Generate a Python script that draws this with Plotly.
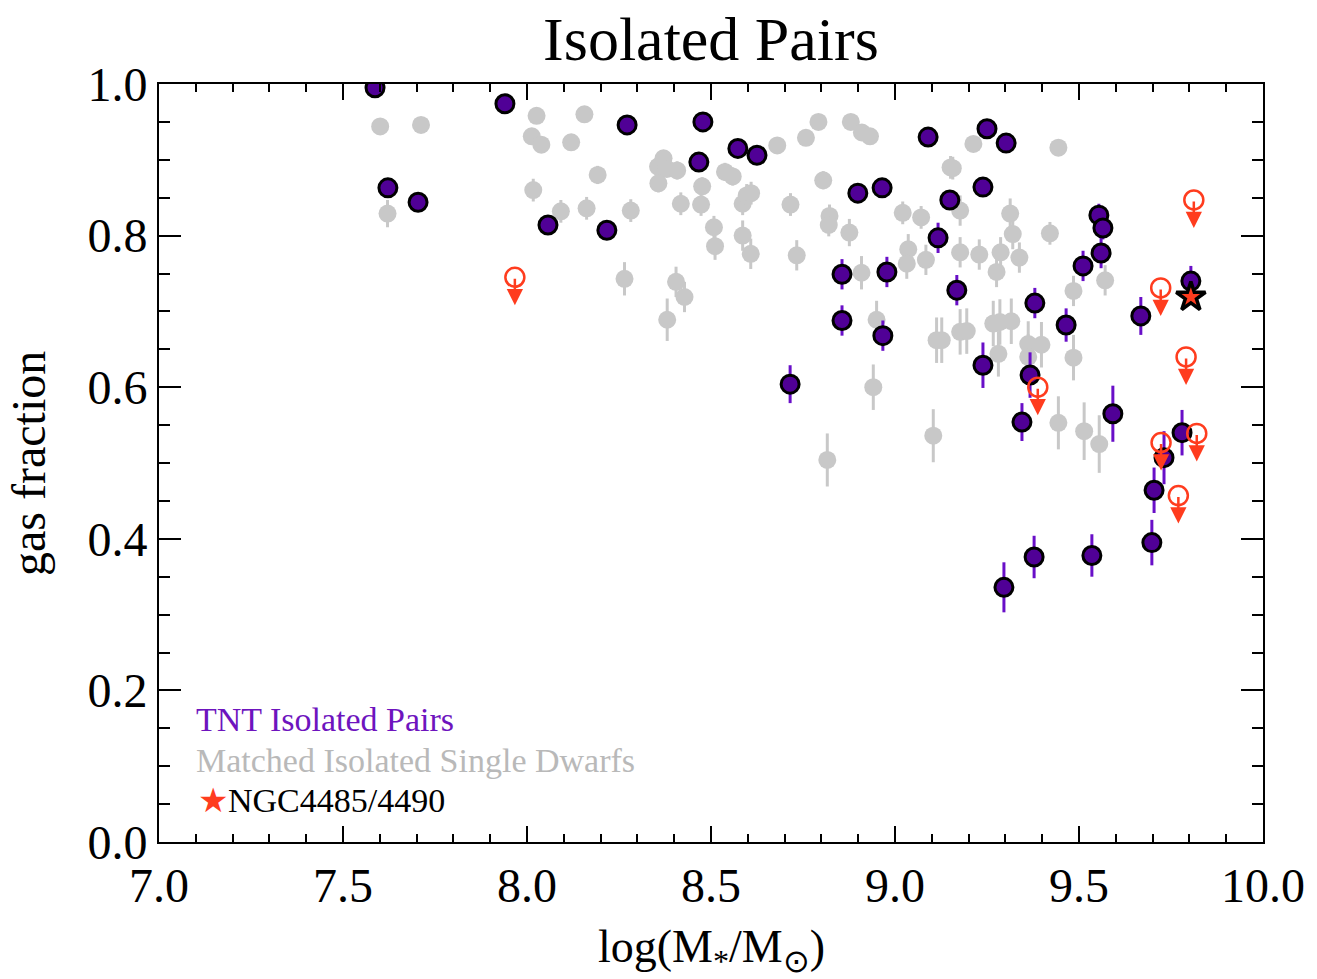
import plotly.graph_objects as go

# ---- data ----
pair_x = [7.587, 7.622, 7.704, 7.940, 8.057, 8.217, 8.272, 8.478, 8.467, 8.573,
          8.625, 8.715, 8.856, 8.856, 8.899, 8.965, 8.978, 8.967, 9.090, 9.117,
          9.149, 9.168, 9.250, 9.239, 9.302, 9.239, 9.296, 9.345, 9.367, 9.380,
          9.378, 9.465, 9.511, 9.554, 9.565, 9.560, 9.535, 9.592, 9.668, 9.804,
          9.780, 9.731, 9.704, 9.698]
pair_y = [0.995, 0.863, 0.844, 0.974, 0.814, 0.807, 0.946, 0.950, 0.897, 0.915,
          0.906, 0.604, 0.749, 0.688, 0.856, 0.863, 0.752, 0.668, 0.930, 0.797,
          0.847, 0.728, 0.941, 0.864, 0.922, 0.629, 0.336, 0.554, 0.616, 0.711,
          0.376, 0.682, 0.760, 0.827, 0.810, 0.777, 0.378, 0.565, 0.694, 0.740,
          0.540, 0.507, 0.464, 0.395]
pair_err = [0.005, 0.012, 0.012, 0.005, 0.012, 0.012, 0.005, 0.005, 0.008, 0.005,
            0.005, 0.025, 0.020, 0.020, 0.005, 0.005, 0.020, 0.020, 0.005, 0.020,
            0.010, 0.020, 0.005, 0.010, 0.005, 0.030, 0.033, 0.025, 0.030, 0.020,
            0.028, 0.022, 0.020, 0.015, 0.015, 0.020, 0.028, 0.037, 0.025, 0.020,
            0.030, 0.035, 0.030, 0.030]

single_x = [7.601, 7.712, 7.621, 8.026, 8.156, 8.013, 8.039, 8.120, 8.192, 8.017,
            8.092, 8.162, 8.282, 8.265, 8.356, 8.371, 8.380, 8.357, 8.408, 8.418,
            8.476, 8.473, 8.508, 8.511, 8.538, 8.559, 8.586, 8.597, 8.609, 8.586,
            8.608, 8.680, 8.716, 8.758, 8.792, 8.805, 8.733, 8.405, 8.428, 8.381,
            8.880, 8.910, 8.932, 8.822, 8.820, 8.876, 8.909, 8.941, 8.950, 8.816,
            9.104, 9.113, 9.151, 9.021, 9.071, 9.036, 9.032, 9.084, 9.177, 9.213,
            9.444, 9.157, 9.177, 9.313, 9.320, 9.421, 9.177, 9.229, 9.287, 9.338,
            9.276, 9.571, 9.485, 9.195, 9.127, 9.267, 9.285, 9.316, 9.362, 9.398,
            9.485, 9.281, 9.362, 9.444, 9.514, 9.555]
single_y = [0.944, 0.946, 0.829, 0.958, 0.960, 0.931, 0.920, 0.923, 0.880, 0.860,
            0.832, 0.836, 0.833, 0.743, 0.891, 0.902, 0.888, 0.869, 0.886, 0.842,
            0.865, 0.841, 0.811, 0.786, 0.884, 0.878, 0.842, 0.853, 0.856, 0.800,
            0.776, 0.919, 0.841, 0.929, 0.950, 0.873, 0.774, 0.739, 0.719, 0.689,
            0.950, 0.936, 0.931, 0.826, 0.814, 0.804, 0.751, 0.600, 0.689, 0.504,
            0.536, 0.662, 0.890, 0.830, 0.824, 0.782, 0.763, 0.768, 0.673, 0.921,
            0.916, 0.889, 0.833, 0.829, 0.802, 0.803, 0.778, 0.775, 0.778, 0.771,
            0.752, 0.741, 0.727, 0.674, 0.662, 0.684, 0.686, 0.687, 0.657, 0.656,
            0.639, 0.644, 0.640, 0.553, 0.542, 0.525]
single_err = [0.004, 0.004, 0.018, 0.004, 0.004, 0.004, 0.004, 0.004, 0.012, 0.015,
              0.015, 0.015, 0.015, 0.022, 0.010, 0.010, 0.010, 0.012, 0.012, 0.015,
              0.012, 0.015, 0.015, 0.018, 0.012, 0.012, 0.015, 0.015, 0.015, 0.020,
              0.020, 0.004, 0.015, 0.004, 0.004, 0.012, 0.020, 0.020, 0.020, 0.028,
              0.004, 0.004, 0.004, 0.015, 0.015, 0.018, 0.022, 0.030, 0.025, 0.035,
              0.035, 0.030, 0.015, 0.015, 0.015, 0.020, 0.020, 0.020, 0.030, 0.005,
              0.005, 0.015, 0.020, 0.020, 0.020, 0.015, 0.020, 0.020, 0.020, 0.020,
              0.020, 0.020, 0.020, 0.030, 0.030, 0.030, 0.030, 0.030, 0.030, 0.030,
              0.030, 0.030, 0.030, 0.035, 0.038, 0.038]

limit_x = [7.967, 9.388, 9.722, 9.812, 9.791, 9.723, 9.820, 9.770]
limit_y = [0.745, 0.600, 0.731, 0.847, 0.640, 0.527, 0.539, 0.457]

star_x = [9.804]
star_y = [0.719]

# ---- styles ----
FONT = "Liberation Serif"
PURPLE_FILL = "rgb(80,0,150)"
PURPLE_BAR = "rgb(105,15,200)"
GRAY = "rgb(200,200,200)"
RED = "rgb(255,60,30)"

fig = go.Figure()

fig.add_trace(go.Scatter(
    x=single_x, y=single_y, mode="markers",
    marker=dict(size=18, color=GRAY, line=dict(width=0)),
    error_y=dict(type="data", array=single_err, color=GRAY, thickness=3, width=0),
    showlegend=False, hoverinfo="skip"))

fig.add_trace(go.Scatter(
    x=pair_x, y=pair_y, mode="markers",
    marker=dict(size=18, color=PURPLE_FILL, line=dict(width=3, color="black")),
    error_y=dict(type="data", array=pair_err, color=PURPLE_BAR, thickness=3, width=0),
    showlegend=False, hoverinfo="skip"))

fig.add_trace(go.Scatter(
    x=star_x, y=star_y, mode="markers",
    marker=dict(size=22, symbol="star", color=RED, line=dict(width=3.5, color="black")),
    showlegend=False, hoverinfo="skip"))

fig.add_trace(go.Scatter(
    x=limit_x, y=limit_y, mode="markers",
    marker=dict(size=19, symbol="circle-open", color=RED, line=dict(width=2.5, color=RED)),
    showlegend=False, hoverinfo="skip"))

annotations = []
for lx, ly in zip(limit_x, limit_y):
    annotations.append(dict(
        x=lx, y=ly, xref="x", yref="y", text="", showarrow=True,
        ax=0, ay=-28, yshift=-28, arrowhead=2, arrowsize=1.3,
        arrowwidth=2.5, arrowcolor=RED))

# legend-like text
annotations += [
    dict(x=0.032, y=0.161, xref="paper", yref="paper", text="TNT Isolated Pairs",
         showarrow=False, xanchor="left", yanchor="middle",
         font=dict(family=FONT, size=34, color="rgb(110,20,190)")),
    dict(x=0.032, y=0.108, xref="paper", yref="paper", text="Matched Isolated Single Dwarfs",
         showarrow=False, xanchor="left", yanchor="middle",
         font=dict(family=FONT, size=34, color="rgb(185,185,185)")),
    dict(x=0.0625, y=0.055, xref="paper", yref="paper",
         text="<span style='color:rgb(255,60,30)'>★</span>NGC4485/4490",
         showarrow=False, xanchor="center", yanchor="middle", xshift=-3,
         font=dict(family=FONT, size=34, color="black")),
    # axis titles
    dict(x=0.5, y=-0.1425, xref="paper", yref="paper",
         text="log(M<sub>*</sub>/M<sub>⊙</sub>)",
         showarrow=False, xanchor="center", yanchor="middle",
         font=dict(family=FONT, size=46, color="black")),
    dict(x=-0.1187, y=0.5, xref="paper", yref="paper", text="gas fraction",
         textangle=-90, showarrow=False, xanchor="center", yanchor="middle",
         font=dict(family=FONT, size=48, color="black")),
]
# position the NGC label left-anchored
annotations[-3]["xanchor"] = "left"
annotations[-3]["x"] = 0.036

axis_common = dict(
    showgrid=False, zeroline=False, showline=True, linecolor="black", linewidth=2,
    mirror="allticks", ticks="inside", tickcolor="black", tickwidth=2,
    tickfont=dict(family=FONT, size=48, color="black"),
)

fig.update_layout(
    width=1317, height=979,
    margin=dict(l=159, r=54, t=84, b=137),
    paper_bgcolor="white", plot_bgcolor="white",
    title=dict(text="Isolated Pairs", x=0.5, xref="paper", xanchor="center",
               y=0.961, yref="container", yanchor="middle",
               font=dict(family=FONT, size=62, color="black")),
    xaxis=dict(range=[7.0, 10.0], tickmode="linear", tick0=7.0, dtick=0.5,
               tickformat=".1f", ticklen=16,
               minor=dict(ticks="inside", dtick=0.1, ticklen=8, tickwidth=2, tickcolor="black"),
               **axis_common),
    yaxis=dict(range=[0.0, 1.0], tickmode="linear", tick0=0.0, dtick=0.2,
               tickformat=".1f", ticklen=22,
               minor=dict(ticks="inside", dtick=0.05, ticklen=11, tickwidth=2, tickcolor="black"),
               **axis_common),
    annotations=annotations,
    showlegend=False,
)

fig.write_html("out.html")
